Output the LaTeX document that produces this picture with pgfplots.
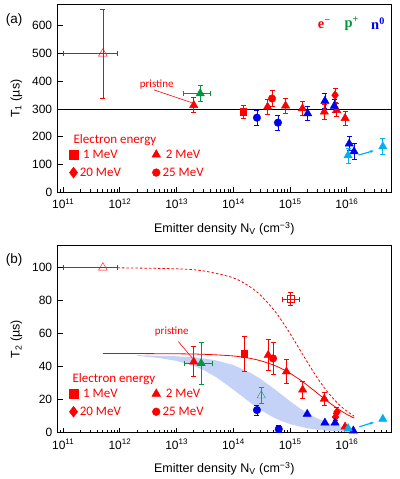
\documentclass[border=0pt]{standalone}
\usepackage{pgfplots}
\pgfplotsset{compat=1.18}
\usepackage{fontspec}
\setmainfont{Liberation Sans}
\newfontfamily\calfont{Carlito}
\newfontfamily\serfont{Liberation Serif}
\usetikzlibrary{arrows.meta}

\definecolor{myred}{RGB}{255,0,0}
\definecolor{mygreen}{RGB}{0,150,60}
\definecolor{myteal}{RGB}{30,150,100}
\definecolor{myblue}{RGB}{0,0,235}
\definecolor{mylblue}{RGB}{0,176,240}
\definecolor{band}{RGB}{196,210,248}

\pgfplotsset{
  legend image code/.code={\draw[mark repeat=2,mark phase=2,#1] plot coordinates {(0pt,0pt)(5pt,0pt)(10pt,0pt)};},
  ebar/.style={error bars/error bar style={line width=0.7pt},
    error bars/error mark options={rotate=90, mark size=2.5pt, line width=0.7pt}},
  yerr/.style={error bars/y dir=both, error bars/y explicit, ebar},
  xyerr/.style={error bars/x dir=both, error bars/x explicit,
    error bars/y dir=both, error bars/y explicit, ebar},
  tri/.style={only marks, mark=triangle*, mark size=4.8pt, forget plot},
  sq/.style={only marks, mark=square*, mark size=3.2pt, forget plot},
  dia/.style={only marks, mark=diamond*, mark size=4.5pt, forget plot},
  cir/.style={only marks, mark=*, mark size=3.8pt, forget plot},
}

\begin{document}
\begin{tikzpicture}
\path[use as bounding box] (0pt,0pt) rectangle (399pt,479pt);

% ---------------- (a) T1 ----------------
\begin{axis}[at={(57.7pt,286.7pt)}, anchor=south west,
  scale only axis, width=333.3pt, height=187.3pt,
  xmode=log, xmin=8e10, xmax=6e16,
  xtick={1e11,1e12,1e13,1e14,1e15,1e16},
  minor xtick={9e10,2e11,3e11,4e11,5e11,6e11,7e11,8e11,9e11,2e12,3e12,4e12,5e12,6e12,7e12,8e12,9e12,2e13,3e13,4e13,5e13,6e13,7e13,8e13,9e13,2e14,3e14,4e14,5e14,6e14,7e14,8e14,9e14,2e15,3e15,4e15,5e15,6e15,7e15,8e15,9e15,2e16,3e16,4e16,5e16},
  xticklabels={10\textsuperscript{11},10\textsuperscript{12},10\textsuperscript{13},10\textsuperscript{14},10\textsuperscript{15},10\textsuperscript{16}},
  ymin=0, ymax=675, ytick={0,100,...,600},
  xtick pos=left, ytick pos=left,
  major tick length=5pt, minor tick length=3pt,
  xticklabel shift=3pt, yticklabel shift=2pt,
  axis line style={line width=1pt},
  major tick style={black, line width=1pt},
  minor tick style={black, line width=0.8pt},
  /pgf/number format/assume math mode=true,
  ticklabel style={font=\fontsize{12}{12}\selectfont},
  label style={font=\fontsize{12.5}{14}\selectfont},
  xlabel={Emitter density N\textsubscript{V} (cm\textsuperscript{−3})},
  ylabel={T\textsubscript{1} (µs)},
  xlabel style={at={(axis description cs:0.5,-0.193)}, anchor=center},
  ylabel style={at={(axis description cs:-0.124,0.5)}, anchor=center},
  clip=false,
  legend columns=2,
  legend style={at={(axis description cs:0.025,0.25)}, anchor=north west,
    draw=none, fill=none, row sep=4pt,
    font=\calfont\fontsize{13}{14}\selectfont\color{myred},
    /tikz/every even column/.append style={column sep=29pt}},
]

\addlegendimage{only marks, mark=square*, myred, mark size=4.3pt}\addlegendentry{1 MeV}
\addlegendimage{only marks, mark=triangle*, myred, mark size=5pt}\addlegendentry{2 MeV}
\addlegendimage{only marks, mark=diamond*, myred, mark size=5.5pt}\addlegendentry{20 MeV}
\addlegendimage{only marks, mark=*, myred, mark size=3.9pt}\addlegendentry{25 MeV}

\addplot[black, line width=0.8pt, forget plot] coordinates {(8e10,300) (6e16,300)};

% open triangle (extrapolated)
\addplot[myred, only marks, mark=triangle, mark size=5pt, mark options={fill=myred!15}, forget plot, xyerr]
  table[x=x, y=y, x error plus=exp, x error minus=exm, y error=ey] {
x y exp exm ey
5e11 500 4e11 4e11 160
};

% red (electrons)
\addplot[myred, tri, yerr] table[x=x, y=y, y error=ey] {
x y ey
2e13 314 27
4e14 308 28
8.3e14 312 27
1.65e15 302 25
4e15 290 26
6.6e15 296 24
9.3e15 267 26
};
\addplot[myred, sq, yerr] table[x=x, y=y, y error=ey] {
x y ey
1.5e14 290 25
};
\addplot[myred, dia, yerr] table[x=x, y=y, y error=ey] {
x y ey
6.2e15 350 25
};
\addplot[myred, cir, yerr] table[x=x, y=y, y error=ey] {
x y ey
4.8e14 338 28
};

% green (protons)
\addplot[mygreen, tri, xyerr] table[x=x, y=y, x error plus=exp, x error minus=exm, y error=ey] {
x y exp exm ey
2.6e13 356 1.4e13 1.3e13 30
};

% blue (neutrons)
\addplot[myblue, cir, yerr] table[x=x, y=y, y error=ey] {
x y ey
2.6e14 269 28
6.1e14 251 27
};
\addplot[myblue, tri, yerr] table[x=x, y=y, y error=ey] {
x y ey
2.04e15 284 26
4.1e15 329 27
6e15 311 24
1.1e16 175 25
1.34e16 147 28
};
\addplot[mylblue, tri, yerr] table[x=x, y=y, y error=ey] {
x y ey
1.05e16 133 27
4.3e16 165 30
};

\draw[mylblue, line width=1.2pt, -{Stealth[length=4pt]}] (axis cs:1.6e16,134) -- (axis cs:3e16,150);

\draw[myred, line width=0.6pt] (axis cs:4e12,369) -- (axis cs:1.84e13,323);
\node[font=\calfont\fontsize{11}{11}\selectfont, text=myred] at (axis cs:4.45e12,389) {pristine};

\node[anchor=west, font=\calfont\fontsize{13}{14}\selectfont, text=myred] at (axis description cs:0.037,0.279) {Electron energy};

\node[anchor=west, font=\serfont\bfseries\fontsize{14.5}{15}\selectfont, text=myred] at (axis description cs:0.77,0.899) {e\textsuperscript{−}};
\node[anchor=west, font=\serfont\bfseries\fontsize{14.5}{15}\selectfont, text=mygreen] at (axis description cs:0.85,0.899) {p\textsuperscript{+}};
\node[anchor=west, font=\serfont\bfseries\fontsize{14.5}{15}\selectfont, text=myblue] at (axis description cs:0.93,0.899) {n\textsuperscript{0}};

\node[font=\fontsize{13.5}{14}\selectfont] at (axis description cs:-0.131,0.92) {(a)};
\end{axis}

% ---------------- (b) T2 ----------------
\begin{axis}[at={(57.7pt,46.3pt)}, anchor=south west,
  scale only axis, width=333.3pt, height=187pt,
  xmode=log, xmin=8e10, xmax=6e16,
  xtick={1e11,1e12,1e13,1e14,1e15,1e16},
  minor xtick={9e10,2e11,3e11,4e11,5e11,6e11,7e11,8e11,9e11,2e12,3e12,4e12,5e12,6e12,7e12,8e12,9e12,2e13,3e13,4e13,5e13,6e13,7e13,8e13,9e13,2e14,3e14,4e14,5e14,6e14,7e14,8e14,9e14,2e15,3e15,4e15,5e15,6e15,7e15,8e15,9e15,2e16,3e16,4e16,5e16},
  xticklabels={10\textsuperscript{11},10\textsuperscript{12},10\textsuperscript{13},10\textsuperscript{14},10\textsuperscript{15},10\textsuperscript{16}},
  ymin=0, ymax=113.3, ytick={0,20,...,100},
  xtick pos=left, ytick pos=left,
  major tick length=5pt, minor tick length=3pt,
  xticklabel shift=3pt, yticklabel shift=2pt,
  axis line style={line width=1pt},
  major tick style={black, line width=1pt},
  minor tick style={black, line width=0.8pt},
  /pgf/number format/assume math mode=true,
  ticklabel style={font=\fontsize{12}{12}\selectfont},
  label style={font=\fontsize{12.5}{14}\selectfont},
  xlabel={Emitter density N\textsubscript{V} (cm\textsuperscript{−3})},
  ylabel={T\textsubscript{2} (µs)},
  xlabel style={at={(axis description cs:0.5,-0.193)}, anchor=center},
  ylabel style={at={(axis description cs:-0.124,0.5)}, anchor=center},
  clip=false,
  legend columns=2,
  legend style={at={(axis description cs:0.025,0.257)}, anchor=north west,
    draw=none, fill=none, row sep=4pt,
    font=\calfont\fontsize{13}{14}\selectfont\color{myred},
    /tikz/every even column/.append style={column sep=29pt}},
]

\addlegendimage{only marks, mark=square*, myred, mark size=4.3pt}\addlegendentry{1 MeV}
\addlegendimage{only marks, mark=triangle*, myred, mark size=5pt}\addlegendentry{2 MeV}
\addlegendimage{only marks, mark=diamond*, myred, mark size=5.5pt}\addlegendentry{20 MeV}
\addlegendimage{only marks, mark=*, myred, mark size=3.9pt}\addlegendentry{25 MeV}

% neutron band
\addplot[fill=band, draw=none, forget plot] coordinates {
(2e12,47) (5e12,46.6) (1e13,46.3) (2e13,45.6) (3e13,45) (5e13,43.8) (1e14,41)
(2e14,36.3) (3e14,32.6) (5e14,27.1) (7e14,23.2) (1e15,19) (1.5e15,14.6) (2e15,11.9)
(3e15,8.7) (5e15,5.6) (7e15,4.2) (1e16,2.6) (1.3e16,0.8)
(1.3e16,0.3) (7e15,0.9) (5e15,1.1) (3e15,1.8) (2e15,2.7) (1e15,5.2) (7e14,7.1)
(5e14,9.4) (3e14,13.8) (2e14,18.1) (1e14,26.1) (5e13,33.6) (3e13,37.9) (2e13,40.5)
(1e13,43.5) (5e12,45.2) (2e12,46.6)
} -- cycle;

% fit curves
\addplot[myred, line width=0.8pt, dash pattern=on 2.5pt off 2pt, smooth, forget plot] coordinates {
(9e11,99.9) (1e13,99.3) (3e13,98) (1e14,93.8) (2e14,88.2) (3e14,83.3) (5e14,75)
(7e14,68.2) (1e15,60) (1.5e15,50) (2e15,42.9) (3e15,33.3) (4e15,27.3) (5e15,23.1)
(7e15,17.6) (1e16,13) (1.35e16,10)};
\addplot[myred, line width=0.8pt, smooth, forget plot] coordinates {
(5e11,48) (1e12,48) (1e13,47.8) (3e13,47.5) (1e14,46.5) (2e14,45) (3e14,43.6)
(5e14,41.1) (7e14,38.9) (1e15,36) (1.5e15,32) (2e15,28.8) (3e15,24) (4e15,20.6)
(5e15,18) (7e15,14.4) (1e16,11.1) (1.35e16,8.8)};

% open markers
\addplot[myred, only marks, mark=triangle, mark size=5pt, mark options={fill=myred!25}, forget plot,
  error bars/x dir=both, error bars/x explicit, ebar]
  table[x=x, y=y, x error plus=exp, x error minus=exm] {
x y exp exm
5e11 100 4e11 4e11
};
\addplot[myred, only marks, mark=square, mark size=3.4pt, forget plot, xyerr]
  table[x=x, y=y, x error plus=exp, x error minus=exm, y error=ey] {
x y exp exm ey
1.02e15 81 4.3e14 2.8e14 4
};
\addplot[myteal, only marks, mark=triangle, mark size=4.8pt, forget plot, yerr] table[x=x, y=y, y error=ey] {
x y ey
3.1e14 22.5 4.7
};

% red (electrons)
\addplot[myred, tri, yerr] table[x=x, y=y, y error=ey] {
x y ey
2e13 43 9.1
4.1e14 47 9.4
8.6e14 37 7.2
1.66e15 26 5.2
4e15 20.5 4.2
};
\addplot[myred, tri] coordinates {(9.3e15,3.6)};
\addplot[myred, sq, yerr] table[x=x, y=y, y error=ey] {
x y ey
1.55e14 47.8 10.5
};
\addplot[myred, cir, yerr] table[x=x, y=y, y error=ey] {
x y ey
5e14 45 9.8
};
\addplot[myred, dia, yerr] table[x=x, y=y, y error=ey] {
x y ey
6.7e15 12.5 3
6.3e15 9.5 2
};

% green (protons)
\addplot[mygreen, tri, xyerr] table[x=x, y=y, x error plus=exp, x error minus=exm, y error=ey] {
x y exp exm ey
2.7e13 42 1.5e13 1.35e13 12.5
};

% blue (neutrons)
\addplot[myblue, cir, yerr] table[x=x, y=y, y error=ey] {
x y ey
2.6e14 13.7 3
6.3e14 2.2 2
};
\addplot[myblue, tri] coordinates {(2e15,11.3) (4.1e15,6) (6.2e15,6) (1.3e16,1.2)};
\addplot[mylblue, tri] coordinates {(1.05e16,2.6) (4.3e16,8.3)};

\draw[mylblue, line width=1.2pt, -{Stealth[length=4pt]}] (axis cs:1.66e16,3.6) -- (axis cs:3e16,6.3);

\draw[myred, line width=0.6pt] (axis cs:1.07e13,55.2) -- (axis cs:1.9e13,45.1);
\node[font=\calfont\fontsize{11}{11}\selectfont, text=myred] at (axis cs:8.2e12,61.2) {pristine};

\node[anchor=west, font=\calfont\fontsize{13}{14}\selectfont, text=myred] at (axis description cs:0.034,0.286) {Electron energy};

\node[font=\fontsize{13.5}{14}\selectfont] at (axis description cs:-0.131,0.924) {(b)};
\end{axis}
\end{tikzpicture}
\end{document}
